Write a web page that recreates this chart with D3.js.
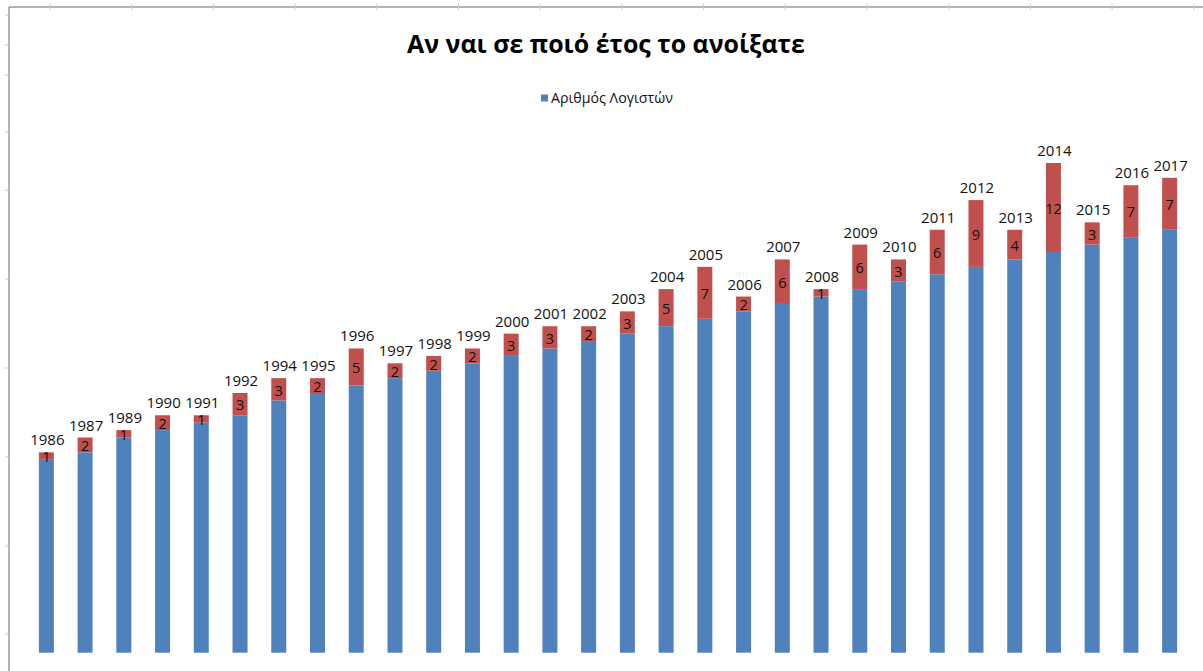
<!DOCTYPE html>
<html>
<head>
<meta charset="utf-8">
<script src="https://cdn.jsdelivr.net/npm/d3@7"></script>
<style>
  html, body { margin: 0; padding: 0; background: #fff; }
  svg { display: block; font-family: "Open Sans", "Noto Sans", sans-serif; }
</style>
</head>
<body>
<svg id="chart" width="1203" height="671"></svg>
<script>
// categories (year the office opened) and number of accountants per year
var years = ["1986", "1987", "1989", "1990", "1991", "1992", "1994", "1995", "1996", "1997",
             "1998", "1999", "2000", "2001", "2002", "2003", "2004", "2005", "2006", "2007",
             "2008", "2009", "2010", "2011", "2012", "2013", "2014", "2015", "2016", "2017"];
var counts = [1, 2, 1, 2, 1, 3, 3, 2, 5, 2,
              2, 2, 3, 3, 2, 3, 5, 7, 2, 6,
              1, 6, 3, 6, 9, 4, 12, 3, 7, 7];
var seriesNames = ["Έτος", "Αριθμός Λογιστών"];
var axisMin = 1960, axisMax = 2040;

var title = "Αν ναι σε ποιό έτος το ανοίξατε";
var blue = "#4f81bd", red = "#c0504d";

var svg = d3.select("#chart");

// stacked table: the year itself is the first (blue) series, the count sits on top (red)
var table = years.map(function (yr, i) {
    return { year: yr, base: +yr, count: counts[i] };
});
var stack = d3.stack().keys(["base", "count"]);
var layers = stack(table);

var x = d3.scaleBand()
    .domain(years)
    .range([27, 1189])
    .paddingInner(0.613)
    .paddingOuter(0.3065);

var y = d3.scaleLinear()
    .domain([axisMin, axisMax])
    .range([652.7, 59.1]);

// sheet frame with the little cell ticks
svg.append("line").attr("x1", 9).attr("x2", 1203).attr("y1", 7).attr("y2", 7)
    .attr("stroke", "#9a9a9a").attr("stroke-width", 1.5);
svg.append("line").attr("x1", 9).attr("x2", 9).attr("y1", 7).attr("y2", 671)
    .attr("stroke", "#9a9a9a").attr("stroke-width", 1.5);

var rowTicks = [15, 45, 75, 132, 190, 279, 368, 457, 546, 634];
svg.append("g").selectAll("line").data(rowTicks).enter().append("line")
    .attr("x1", 5).attr("x2", 9)
    .attr("y1", function (d) { return d; }).attr("y2", function (d) { return d; })
    .attr("stroke", "#c8c8c8");

var colTicks = d3.range(50, 1203, 81.7);
svg.append("g").selectAll("line").data(colTicks).enter().append("line")
    .attr("x1", function (d) { return d; }).attr("x2", function (d) { return d; })
    .attr("y1", 3).attr("y2", 10)
    .attr("stroke", "#d0d0d0");

// bars
svg.append("g").selectAll("g")
    .data(layers)
    .enter()
    .append("g")
    .attr("fill", function (d, i) { return i === 0 ? blue : red; })
    .selectAll("rect")
    .data(function (d) { return d; })
    .enter()
    .append("rect")
    .attr("x", function (d) { return x(d.data.year); })
    .attr("width", x.bandwidth())
    .attr("y", function (d) { return y(Math.max(d[1], axisMin)); })
    .attr("height", function (d) { return y(Math.max(d[0], axisMin)) - y(Math.max(d[1], axisMin)); });

// count labels centred in the red part
var countLayer = layers[1];
svg.append("g").selectAll("text")
    .data(countLayer)
    .enter()
    .append("text")
    .attr("x", function (d) { return x(d.data.year) + x.bandwidth() / 2; })
    .attr("y", function (d) { return (y(d[0]) + y(d[1])) / 2 + 1; })
    .attr("dy", "0.36em")
    .attr("text-anchor", "middle")
    .attr("font-size", 14.5)
    .attr("fill", "#111")
    .text(function (d) { return d.data.count; });

// year labels above each stack
svg.append("g").selectAll("text")
    .data(countLayer)
    .enter()
    .append("text")
    .attr("x", function (d) { return x(d.data.year) + x.bandwidth() / 2 + 1; })
    .attr("y", function (d) { return y(d[1]) - 7; })
    .attr("text-anchor", "middle")
    .attr("font-size", 15)
    .attr("fill", "#111")
    .text(function (d) { return d.data.year; });

// title
var t = svg.append("text")
    .attr("x", 606).attr("y", 53)
    .attr("text-anchor", "middle")
    .attr("font-weight", "bold")
    .attr("font-size", 26)
    .attr("fill", "#000")
    .text(title);
var tl = t.node().getComputedTextLength();
t.attr("font-size", 26 * 398 / tl);

// legend (only the blue entry shows)
svg.append("rect").attr("x", 541).attr("y", 94.5).attr("width", 7).attr("height", 7).attr("fill", blue);
var lg = svg.append("text")
    .attr("x", 551).attr("y", 103)
    .attr("font-size", 12)
    .attr("fill", "#111")
    .text(seriesNames[1]);
var ll = lg.node().getComputedTextLength();
lg.attr("font-size", 12 * 122 / ll);
</script>
</body>
</html>
